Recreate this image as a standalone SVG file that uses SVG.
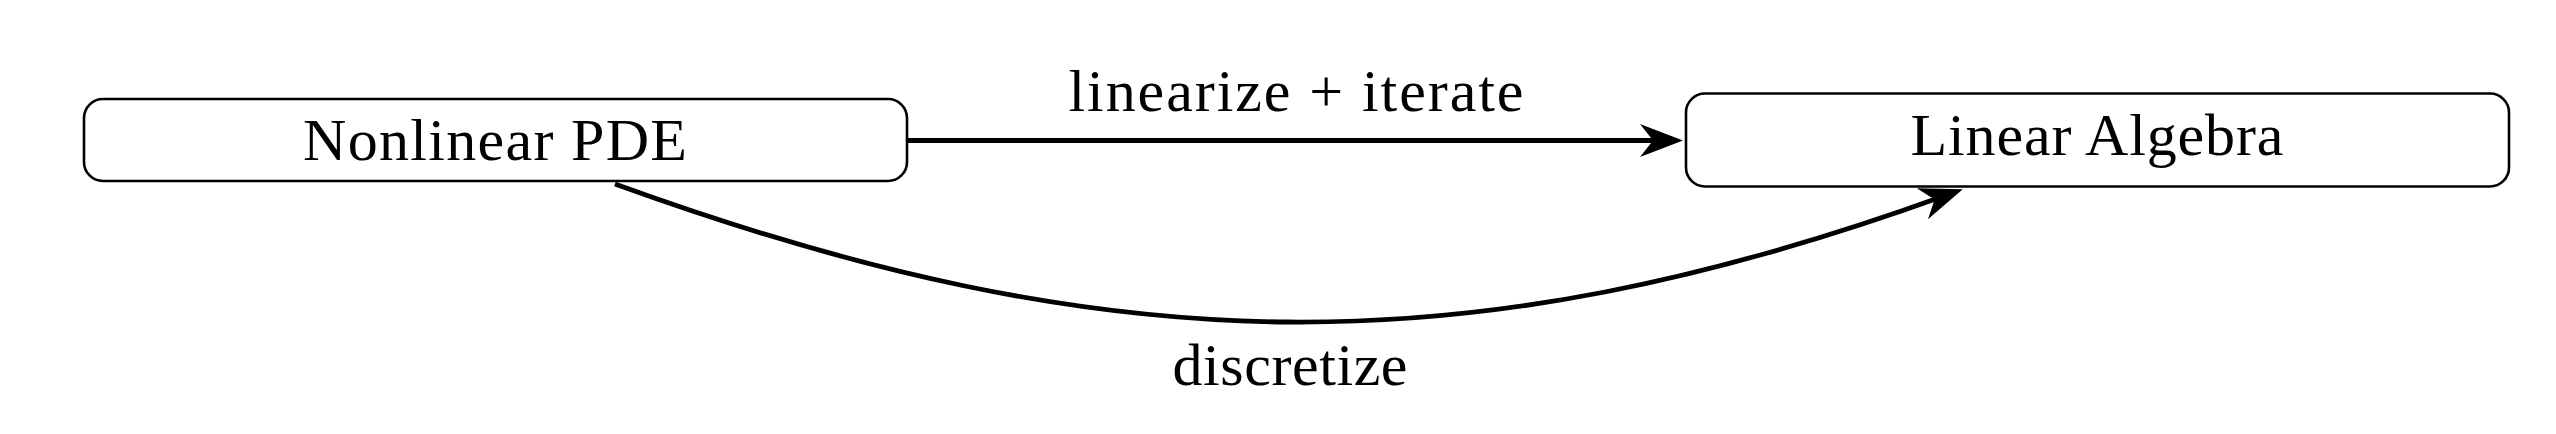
<svg xmlns="http://www.w3.org/2000/svg" width="2556" height="434" viewBox="0 0 2556 434">
<style>
.node{fill:#fff;stroke:#000;stroke-width:2.6}
.lbl{font-family:"Liberation Serif","DejaVu Serif",serif;font-size:60px;fill:#000;text-anchor:middle}
.edge{fill:none;stroke:#000;stroke-width:4.8}
</style>
<defs>
<marker id="arr" markerUnits="userSpaceOnUse" markerWidth="60" markerHeight="40" refX="-20" refY="0" orient="auto" overflow="visible">
<path d="M0,0 L-43,-16.5 L-30,0 L-43,16.5 Z" fill="#000"/>
</marker>
</defs>
<rect width="2556" height="434" fill="#fff"/>
<g id="edges">
<path class="edge" d="M907,140.5 L1663,140.5" marker-end="url(#arr)"/>
<path class="edge" d="M615,184 C1111,364 1467,368 1944,196" marker-end="url(#arr)"/>
<text class="lbl" x="1296" y="111" textLength="455" lengthAdjust="spacing">linearize + iterate</text>
<text class="lbl" x="1290" y="385" textLength="235" lengthAdjust="spacing">discretize</text>
</g>
<g id="nonlinear-pde">
<rect class="node" x="84" y="99" width="823" height="82" rx="19" ry="19"/>
<text class="lbl" x="495" y="160" textLength="384" lengthAdjust="spacing">Nonlinear PDE</text>
</g>
<g id="linear-algebra">
<rect class="node" x="1686" y="93.5" width="823" height="93" rx="19" ry="19"/>
<text class="lbl" x="2097" y="155" textLength="373" lengthAdjust="spacing">Linear Algebra</text>
</g>
</svg>
